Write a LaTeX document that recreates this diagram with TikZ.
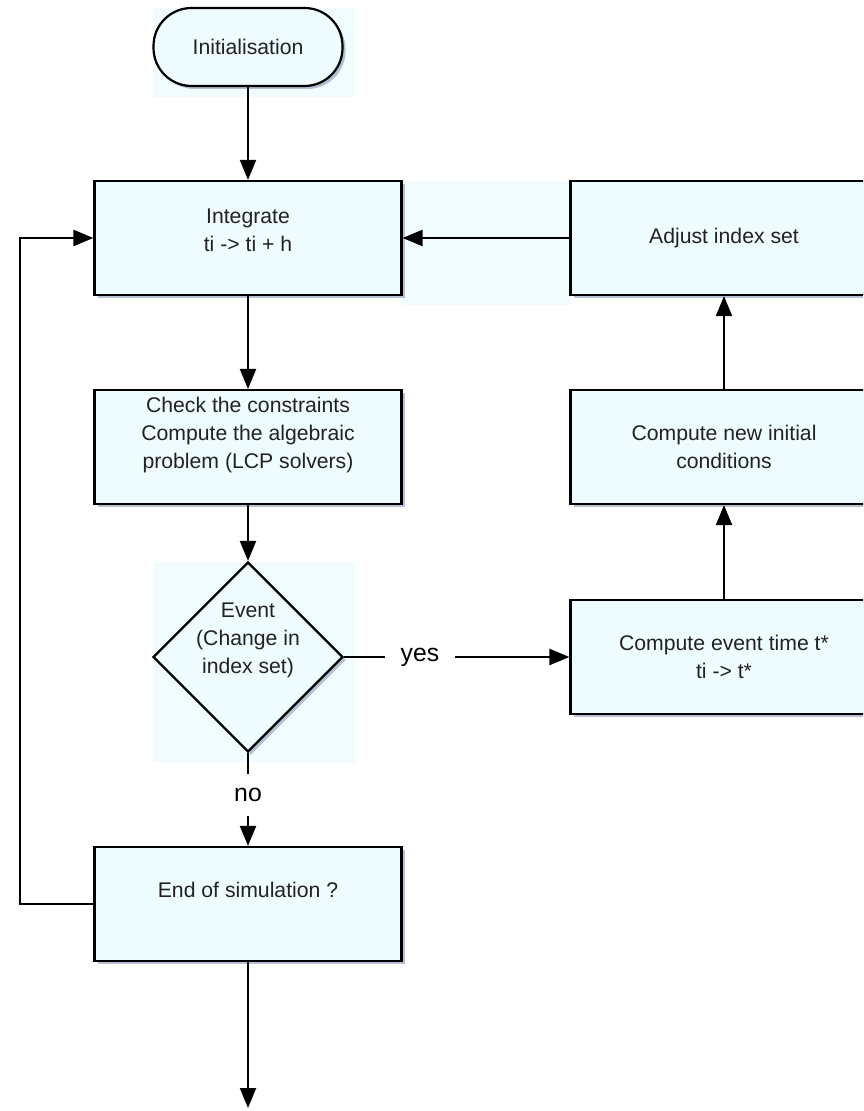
\documentclass[tikz,border=0pt]{standalone}
\usepackage{fontspec}
\setmainfont{Liberation Sans}
\usetikzlibrary{shapes.geometric,shadows,arrows.meta,positioning,calc}

\definecolor{boxfill}{RGB}{238,251,255}
\definecolor{bgfill}{RGB}{241,252,255}
\definecolor{shadeblue}{RGB}{130,140,175}
\definecolor{txtgray}{RGB}{34,34,34}

\tikzset{
	flowbox/.style={draw, rectangle, line width=1.1pt, fill=boxfill,
		minimum width=153.5pt, minimum height=57pt, inner sep=0pt,
		align=center, text=txtgray, font=\fontsize{10.6}{14}\selectfont,
		drop shadow={shadow xshift=1.5pt, shadow yshift=-1.5pt, fill=shadeblue, opacity=0.55}},
	startbox/.style={flowbox, rounded corners=19pt, minimum width=94.5pt, minimum height=39pt},
	decision/.style={flowbox, diamond, minimum width=95pt, minimum height=95pt},
	flowtext/.style={align=center, text=txtgray, inner sep=0pt, font=\fontsize{10.6}{14}\selectfont},
	answer/.style={inner sep=0pt, font=\fontsize{12.4}{14}\selectfont},
}

\begin{document}
\begin{tikzpicture}[x=0.5pt, y=-0.5pt, line width=1.1pt, >={Triangle[length=10pt,width=8pt]}]
	\useasboundingbox (0,0) rectangle (863,1111);
	\clip (0,0) rectangle (863,1111);

	% light backgrounds
	% -----------------
	\fill[bgfill] (153,8) rectangle (355,97);
	\fill[bgfill] (402,181) rectangle (572,305);
	\fill[bgfill] (153,562) rectangle (355,763);

	% Left column
	% -----------
	\node[startbox] (init) at (248,47) {Initialisation};
	\node[flowbox] (integ) at (248,238) {Integrate\\ti -> ti + h\\[-6pt]~};
	\node[flowbox] (check) at (248,447) {Check the constraints\\Compute the algebraic\\problem (LCP solvers)\\~};
	\node[decision] (event) at (248,657) {};
	\node[flowtext] (eventtxt) at (248,640) {Event\\(Change in\\index set)};
	\node[flowbox] (endsim) at (248,904) {End of simulation ?\\~};

	% Right column
	% ------------
	\node[flowbox] (adjust) at (724,238) {Adjust index set};
	\node[flowbox] (newinit) at (724,447) {Compute new initial\\conditions};
	\node[flowbox] (evtime) at (724,657) {Compute event time t*\\ti -> t*};

	% answers
	\node[answer, minimum width=34pt] (yes) at (420,657) {yes};
	\node[answer, minimum height=20pt] (no) at (248,795) {no};

	\coordinate (loop) at (20,904);
	\coordinate (stop) at (248,1108);

	% connectors
	% ----------
	\draw [->] (init) -- (integ);
	\draw [->] (integ) -- (check);
	\draw [->] (check) -- (event.north);
	\draw (event.east) -- (yes.west);
	\draw [->] (yes.east) -- (evtime.west);
	\draw (event.south) -- (no.north);
	\draw [->] (no.south) -- (endsim.north);
	\draw [->] (evtime) -- (newinit);
	\draw [->] (newinit) -- (adjust);
	\draw [->] (adjust) -- (integ);
	\draw [->] (endsim.west) -- (loop) |- (integ.west);
	\draw [->] (endsim) -- (stop);
\end{tikzpicture}
\end{document}
